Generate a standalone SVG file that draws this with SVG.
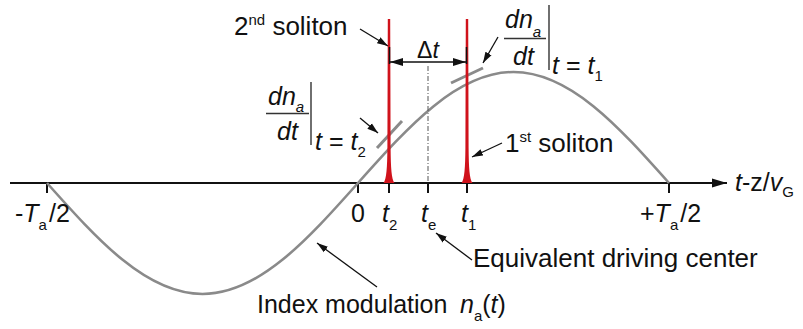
<svg xmlns="http://www.w3.org/2000/svg" width="803" height="329" viewBox="0 0 803 329">
<style>
text{font-family:"Liberation Sans",Arial,sans-serif;fill:#111;font-size:25px}
.it{font-style:italic}
.sub{font-size:15px}
.lbl{font-size:26px}
.big{font-size:26px}
.dtl{font-size:23px}
.ax{stroke:#111;stroke-width:2;fill:none}
.tick{stroke:#111;stroke-width:2}
.ptr{stroke:#111;stroke-width:1.3;fill:none;marker-end:url(#ah)}
.curve{stroke:#8a8a8a;stroke-width:2.6;fill:none}
.tan{stroke:#8a8a8a;stroke-width:3;fill:none}
.sol{fill:#d0121b}
.frac{stroke:#333;stroke-width:1.4}
</style>
<defs>
<marker id="ah" markerUnits="userSpaceOnUse" markerWidth="12" markerHeight="8" refX="11" refY="4" orient="auto">
<path d="M0,0.5 L11,4 L0,7.5 Z" fill="#111"/>
</marker>
<marker id="axh" markerUnits="userSpaceOnUse" markerWidth="16" markerHeight="10" refX="15" refY="5" orient="auto">
<path d="M0,0.5 L15,5 L0,9.5 Z" fill="#111"/>
</marker>
<marker id="dh" markerUnits="userSpaceOnUse" markerWidth="14" markerHeight="9" refX="13" refY="4.5" orient="auto-start-reverse">
<path d="M0,0.5 L13,4.5 L0,8.5 Z" fill="#111"/>
</marker>
</defs>

<g id="axis">
<line class="ax" x1="10" y1="183" x2="727" y2="183" marker-end="url(#axh)"/>
<line class="tick" x1="47" y1="183" x2="47" y2="193"/>
<line class="tick" x1="358" y1="183" x2="358" y2="193"/>
<line class="tick" x1="389" y1="183" x2="389" y2="193"/>
<line class="tick" x1="428" y1="183" x2="428" y2="193"/>
<line class="tick" x1="467" y1="183" x2="467" y2="193"/>
<line class="tick" x1="669" y1="183" x2="669" y2="193"/>
</g>

<g id="modulation">
<path class="curve" d="M47,183 C97.7,239.9 146.2,294 202.5,294 C258.8,294 307.3,239.9 358,183 C408.7,126.1 457.2,72 513.5,72 C569.8,72 618.3,126.1 669,183"/>
<line class="tan" x1="377" y1="148" x2="402" y2="121"/>
<line class="tan" x1="451" y1="83" x2="483" y2="68"/>
</g>

<g id="te-line">
<line x1="428" y1="66" x2="428" y2="183" stroke="#555" stroke-width="1" stroke-dasharray="5 2 1 2"/>
</g>

<g id="soliton2">
<path class="sol" d="M383.5,183 C386.5,179 387.2,168 387.4,148 L387.8,19 L390.2,19 L390.6,148 C390.8,168 391.5,179 394.5,183 Z"/>
</g>
<g id="soliton1">
<path class="sol" d="M461.5,183 C464.5,179 465.2,168 465.4,148 L465.8,19 L468.2,19 L468.6,148 C468.8,168 469.5,179 472.5,183 Z"/>
</g>

<g id="connectors">
<line x1="389.5" y1="47" x2="389.5" y2="64" stroke="#111" stroke-width="1.5"/>
<line x1="466.5" y1="47" x2="466.5" y2="64" stroke="#111" stroke-width="1.5"/>
<line x1="390" y1="62" x2="466" y2="62" stroke="#111" stroke-width="1.4" marker-start="url(#dh)" marker-end="url(#dh)"/>
<line class="ptr" x1="360" y1="29" x2="388" y2="46"/>
<line class="ptr" x1="498" y1="37" x2="483" y2="63"/>
<line class="ptr" x1="360" y1="118" x2="378" y2="133"/>
<line class="ptr" x1="502" y1="143" x2="472" y2="157"/>
<line class="ptr" x1="472" y1="260" x2="436" y2="233"/>
<line class="ptr" x1="377" y1="287" x2="317" y2="243"/>
</g>

<g id="label-soliton2">
<text class="lbl" x="234" y="35">2<tspan class="sub" dy="-10">nd</tspan><tspan dy="10"> soliton</tspan></text>
</g>
<g id="label-soliton1">
<text class="lbl" x="505" y="152">1<tspan class="sub" dy="-10">st</tspan><tspan dy="10"> soliton</tspan></text>
</g>
<g id="label-dt">
<text class="dtl" x="428" y="58" text-anchor="middle">Δ<tspan class="it">t</tspan></text>
</g>

<g id="deriv-t1">
<text class="it" x="505" y="28">dn<tspan class="sub" dy="9">a</tspan></text>
<line class="frac" x1="504" y1="38.5" x2="546" y2="38.5"/>
<text class="it" x="513" y="65">dt</text>
<line class="frac" x1="549" y1="5" x2="549" y2="70"/>
<text x="552" y="74"><tspan class="it">t</tspan> = <tspan class="it">t</tspan><tspan class="sub" dy="7">1</tspan></text>
</g>

<g id="deriv-t2">
<text class="it" x="268" y="105">dn<tspan class="sub" dy="7">a</tspan></text>
<line class="frac" x1="266" y1="113.5" x2="309" y2="113.5"/>
<text class="it" x="277" y="140">dt</text>
<line class="frac" x1="311" y1="82" x2="311" y2="145"/>
<text x="315" y="150"><tspan class="it">t</tspan> = <tspan class="it">t</tspan><tspan class="sub" dy="7">2</tspan></text>
</g>

<g id="tick-labels">
<text x="15" y="222">-<tspan class="it">T</tspan><tspan class="sub" dy="8">a</tspan><tspan dy="-8" dx="2">/2</tspan></text>
<text x="358" y="222" text-anchor="middle">0</text>
<text x="382" y="222"><tspan class="it">t</tspan><tspan class="sub" dy="8">2</tspan></text>
<text x="421" y="222"><tspan class="it">t</tspan><tspan class="sub" dy="8">e</tspan></text>
<text x="461" y="222"><tspan class="it">t</tspan><tspan class="sub" dy="8">1</tspan></text>
<text x="640" y="222">+<tspan class="it">T</tspan><tspan class="sub" dy="8">a</tspan><tspan dy="-8" dx="2">/2</tspan></text>
</g>

<g id="axis-label">
<text x="735" y="191"><tspan class="it">t</tspan>-z/<tspan class="it">v</tspan><tspan class="sub" dy="6">G</tspan></text>
</g>

<g id="label-te">
<text class="big" x="473" y="267">Equivalent driving center</text>
</g>
<g id="label-index">
<text x="257" y="313">Index modulation<tspan class="it" x="460">n</tspan><tspan class="sub" dy="8">a</tspan><tspan dy="-8">(</tspan><tspan class="it">t</tspan>)</text>
</g>
</svg>
